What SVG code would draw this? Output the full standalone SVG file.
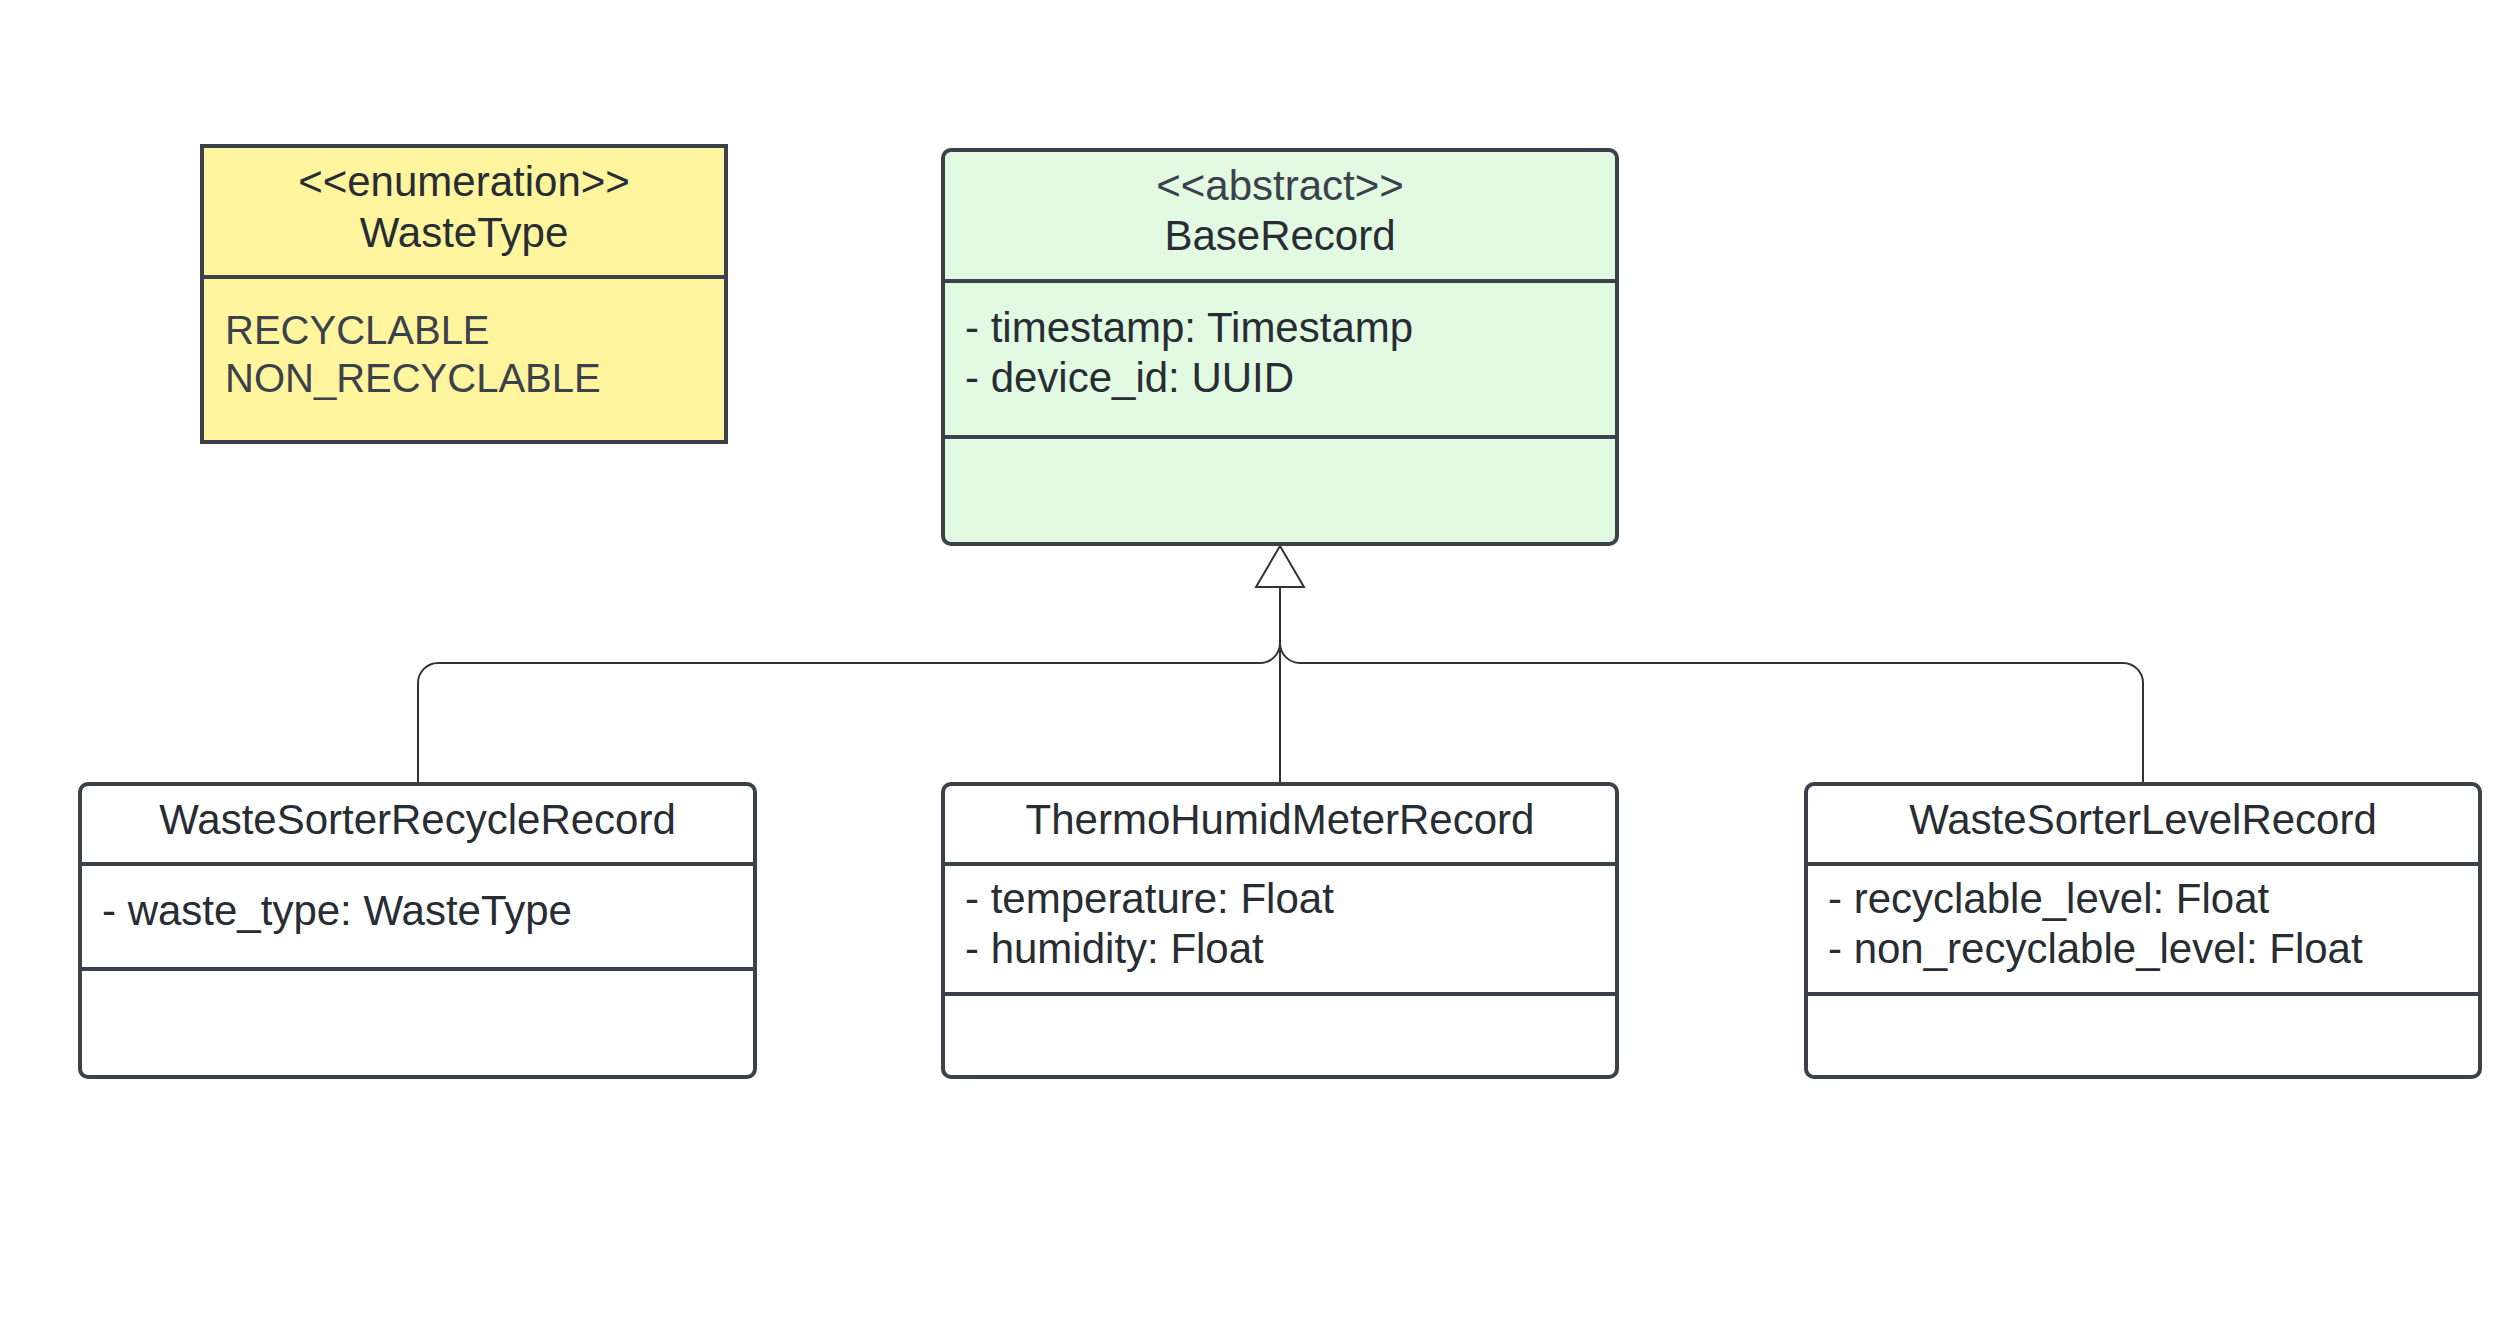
<svg xmlns="http://www.w3.org/2000/svg" width="2505" height="1318" viewBox="0 0 2505 1318">
<style>
.box{stroke:#3a414a;stroke-width:4}
.div{stroke:#3a414a;stroke-width:4}
.t{font-family:"Liberation Sans",Arial,sans-serif;font-size:42px;fill:#282c33}
.c{text-anchor:middle}
.st{fill:#3a414a}
.ev{font-size:40px;fill:#3a414a}
.con{fill:none;stroke:#333333;stroke-width:2}
</style>
<rect width="2505" height="1318" fill="#ffffff"/>
<g id="connectors">
<path class="con" d="M1280 783 V587"/>
<path class="con" d="M418 783 V683 A20 20 0 0 1 438 663 H1260 A20 20 0 0 0 1280 643"/>
<path class="con" d="M2143 783 V683 A20 20 0 0 0 2123 663 H1300 A20 20 0 0 1 1280 643"/>
<polygon points="1280,546 1304,587 1256,587" fill="#ffffff" stroke="#333333" stroke-width="2"/>
</g>
<g id="WasteType">
<rect class="box" x="202" y="146" width="524" height="296" fill="#fff59f"/>
<line class="div" x1="202" y1="277" x2="726" y2="277"/>
<text class="t c" x="464" y="196">&lt;&lt;enumeration&gt;&gt;</text>
<text class="t c" x="464" y="246.5">WasteType</text>
<text class="t ev" x="225" y="343.5">RECYCLABLE</text>
<text class="t ev" x="225" y="391.5">NON_RECYCLABLE</text>
</g>
<g id="BaseRecord">
<rect class="box" x="943" y="150" width="674" height="394" rx="8" fill="#e2f9e2"/>
<line class="div" x1="943" y1="281" x2="1617" y2="281"/>
<line class="div" x1="943" y1="437" x2="1617" y2="437"/>
<text class="t c st" x="1280" y="200">&lt;&lt;abstract&gt;&gt;</text>
<text class="t c" x="1280" y="250">BaseRecord</text>
<text class="t" x="965" y="341.5">- timestamp: Timestamp</text>
<text class="t" x="965" y="391.5">- device_id: UUID</text>
</g>
<g id="WasteSorterRecycleRecord">
<rect class="box" x="80" y="784" width="675" height="293" rx="8" fill="#ffffff"/>
<line class="div" x1="80" y1="864" x2="755" y2="864"/>
<line class="div" x1="80" y1="969" x2="755" y2="969"/>
<text class="t c" x="417.5" y="833.5">WasteSorterRecycleRecord</text>
<text class="t" x="102" y="924.5">- waste_type: WasteType</text>
</g>
<g id="ThermoHumidMeterRecord">
<rect class="box" x="943" y="784" width="674" height="293" rx="8" fill="#ffffff"/>
<line class="div" x1="943" y1="864" x2="1617" y2="864"/>
<line class="div" x1="943" y1="994" x2="1617" y2="994"/>
<text class="t c" x="1280" y="833.5">ThermoHumidMeterRecord</text>
<text class="t" x="965" y="912.5">- temperature: Float</text>
<text class="t" x="965" y="962.5">- humidity: Float</text>
</g>
<g id="WasteSorterLevelRecord">
<rect class="box" x="1806" y="784" width="674" height="293" rx="8" fill="#ffffff"/>
<line class="div" x1="1806" y1="864" x2="2480" y2="864"/>
<line class="div" x1="1806" y1="994" x2="2480" y2="994"/>
<text class="t c" x="2143" y="833.5">WasteSorterLevelRecord</text>
<text class="t" x="1828" y="912.5">- recyclable_level: Float</text>
<text class="t" x="1828" y="962.5">- non_recyclable_level: Float</text>
</g>
</svg>
